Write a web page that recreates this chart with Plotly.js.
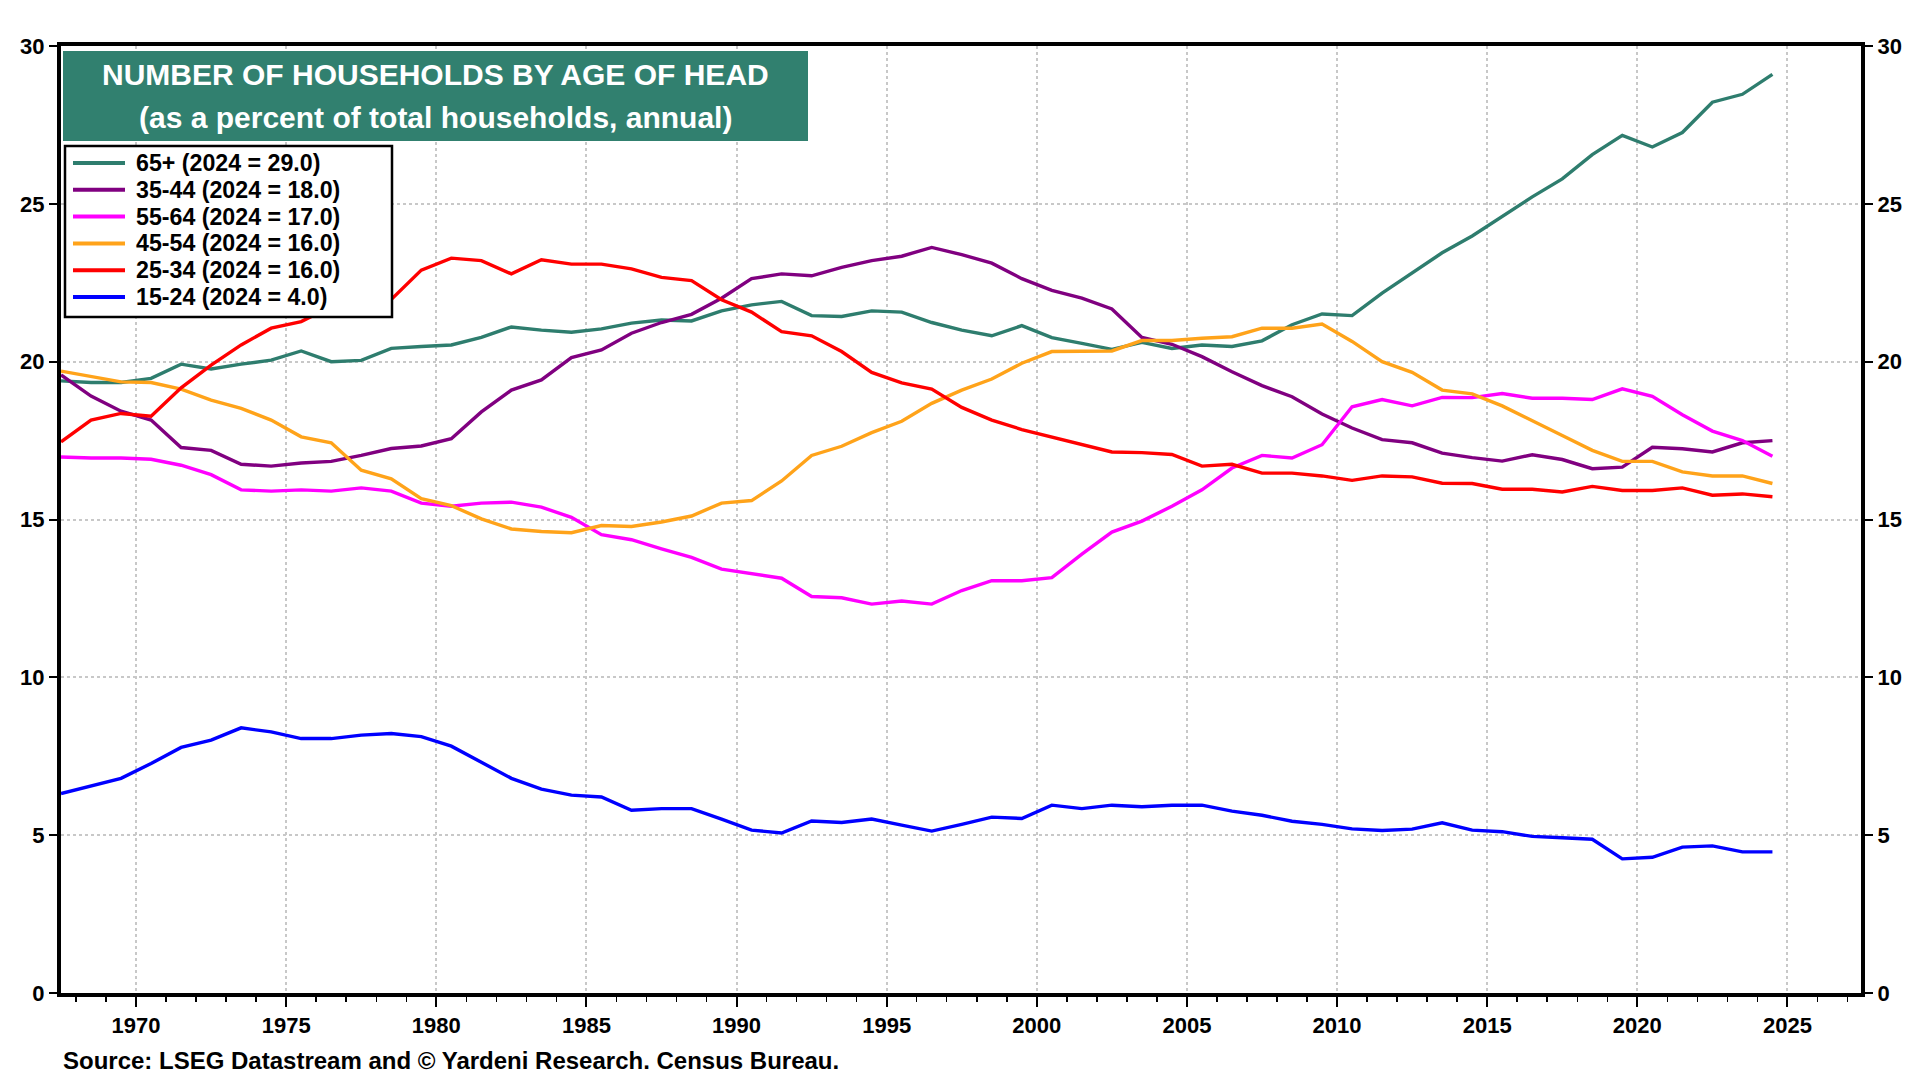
<!DOCTYPE html>
<html>
<head>
<meta charset="utf-8">
<script src="https://cdn.plot.ly/plotly-3.0.1.min.js"></script>
<style>
  html, body { margin: 0; padding: 0; background: #fff; }
  #myDiv { width: 1920px; height: 1080px; }
</style>
</head>
<body>
<div id="myDiv"></div>
<script>
// annual data, 1967-2024 (percent of total households)
var years = [1967, 1968, 1969, 1970, 1971, 1972, 1973, 1974, 1975, 1976,
             1977, 1978, 1979, 1980, 1981, 1982, 1983, 1984, 1985, 1986,
             1987, 1988, 1989, 1990, 1991, 1992, 1993, 1994, 1995, 1996,
             1997, 1998, 1999, 2000, 2001, 2002, 2003, 2004, 2005, 2006,
             2007, 2008, 2009, 2010, 2011, 2012, 2013, 2014, 2015, 2016,
             2017, 2018, 2019, 2020, 2021, 2022, 2023, 2024];

var age65plus = [19.39, 19.34, 19.34, 19.47, 19.92, 19.77, 19.92, 20.05, 20.34, 20.00,
                 20.04, 20.42, 20.48, 20.53, 20.77, 21.10, 21.00, 20.93, 21.04, 21.22,
                 21.32, 21.29, 21.61, 21.80, 21.91, 21.46, 21.43, 21.61, 21.57, 21.24,
                 21.00, 20.82, 21.14, 20.76, 20.58, 20.39, 20.61, 20.42, 20.53, 20.48,
                 20.66, 21.17, 21.51, 21.46, 22.17, 22.81, 23.45, 23.98, 24.61, 25.22,
                 25.79, 26.56, 27.17, 26.80, 27.26, 28.22, 28.47, 29.10];

var age35to44 = [19.58, 18.91, 18.43, 18.15, 17.28, 17.19, 16.75, 16.69, 16.79, 16.84,
                 17.03, 17.25, 17.33, 17.56, 18.41, 19.10, 19.42, 20.13, 20.37, 20.90,
                 21.24, 21.50, 22.01, 22.63, 22.78, 22.72, 22.99, 23.20, 23.34, 23.62,
                 23.39, 23.12, 22.63, 22.26, 22.01, 21.67, 20.77, 20.55, 20.16, 19.68,
                 19.24, 18.89, 18.34, 17.90, 17.53, 17.43, 17.10, 16.96, 16.85, 17.05,
                 16.90, 16.61, 16.66, 17.29, 17.24, 17.14, 17.43, 17.50];

var age55to64 = [16.98, 16.95, 16.95, 16.91, 16.72, 16.42, 15.94, 15.90, 15.94, 15.90,
                 16.00, 15.90, 15.52, 15.42, 15.52, 15.55, 15.39, 15.07, 14.52, 14.36,
                 14.07, 13.80, 13.43, 13.28, 13.14, 12.56, 12.52, 12.32, 12.42, 12.32,
                 12.75, 13.06, 13.06, 13.16, 13.90, 14.60, 14.95, 15.42, 15.94, 16.63,
                 17.03, 16.95, 17.37, 18.57, 18.80, 18.60, 18.87, 18.86, 18.99, 18.84,
                 18.84, 18.80, 19.14, 18.90, 18.32, 17.80, 17.50, 17.00];

var age45to54 = [19.70, 19.52, 19.36, 19.34, 19.13, 18.78, 18.52, 18.15, 17.62, 17.43,
                 16.56, 16.29, 15.66, 15.44, 15.02, 14.70, 14.62, 14.58, 14.81, 14.78,
                 14.92, 15.11, 15.52, 15.60, 16.22, 17.03, 17.32, 17.75, 18.11, 18.68,
                 19.10, 19.45, 19.95, 20.32, 20.32, 20.34, 20.67, 20.67, 20.74, 20.79,
                 21.06, 21.06, 21.19, 20.64, 20.00, 19.66, 19.10, 18.98, 18.60, 18.14,
                 17.66, 17.19, 16.84, 16.84, 16.51, 16.38, 16.38, 16.14];

var age25to34 = [17.46, 18.15, 18.36, 18.27, 19.17, 19.89, 20.53, 21.06, 21.27, 21.75,
                 21.85, 21.97, 22.90, 23.28, 23.20, 22.78, 23.23, 23.09, 23.09, 22.94,
                 22.67, 22.57, 21.96, 21.57, 20.95, 20.82, 20.32, 19.66, 19.33, 19.13,
                 18.55, 18.15, 17.85, 17.62, 17.38, 17.14, 17.12, 17.06, 16.69, 16.75,
                 16.47, 16.47, 16.38, 16.24, 16.38, 16.35, 16.15, 16.14, 15.96, 15.96,
                 15.87, 16.05, 15.92, 15.92, 16.00, 15.77, 15.81, 15.72];

var age15to24 = [6.32, 6.56, 6.80, 7.27, 7.78, 8.01, 8.40, 8.27, 8.06, 8.06,
                 8.17, 8.22, 8.12, 7.82, 7.32, 6.80, 6.46, 6.27, 6.21, 5.79,
                 5.84, 5.84, 5.51, 5.16, 5.07, 5.45, 5.40, 5.51, 5.32, 5.13,
                 5.34, 5.57, 5.53, 5.95, 5.84, 5.95, 5.90, 5.95, 5.95, 5.76,
                 5.63, 5.44, 5.34, 5.20, 5.15, 5.19, 5.39, 5.16, 5.11, 4.96,
                 4.92, 4.87, 4.25, 4.30, 4.62, 4.66, 4.47, 4.47];

var seriesNames = ["65+ (2024 = 29.0)", "35-44 (2024 = 18.0)", "55-64 (2024 = 17.0)",
                   "45-54 (2024 = 16.0)", "25-34 (2024 = 16.0)", "15-24 (2024 = 4.0)"];
var seriesValues = [age65plus, age35to44, age55to64, age45to54, age25to34, age15to24];
var seriesColors = ["#2e7d6e", "#800080", "#ff00ff", "#ffa31a", "#ff0000", "#0000ff"];

// annual values sit in the middle of each year
var xMid = years.map(function (y) { return y + 0.5; });

var fontFamily = "Liberation Sans, Arial, sans-serif";

// plot area in pixels, used to place the title box and the legend
var plotL = 61, plotR = 1861, plotT = 46, plotB = 993;
function px(x) { return (x - plotL) / (plotR - plotL); }
function py(y) { return (plotB - y) / (plotB - plotT); }

var data = [];
for (var i = 0; i < seriesNames.length; i++) {
  data.push({
    type: "scatter",
    mode: "lines",
    x: xMid,
    y: seriesValues[i],
    name: seriesNames[i],
    // the last series goes on the right-hand axis so that it gets drawn (same scale)
    yaxis: i === seriesNames.length - 1 ? "y2" : "y",
    line: {color: seriesColors[i], width: 3.4},
    showlegend: false
  });
}

var tickFont = {family: fontFamily, size: 22, color: "#000", weight: "bold"};

// title box
var shapes = [{
  type: "rect", xref: "paper", yref: "paper",
  x0: px(63), x1: px(808), y0: py(141), y1: py(51),
  fillcolor: "#31806f", line: {width: 0}, layer: "above"
}];

var annotations = [
  {
    xref: "paper", yref: "paper", x: px(435), y: py(74),
    xanchor: "center", yanchor: "middle", showarrow: false,
    text: "NUMBER OF HOUSEHOLDS BY AGE OF HEAD",
    font: {family: fontFamily, size: 30, color: "#fff", weight: "bold"}
  },
  {
    xref: "paper", yref: "paper", x: px(435), y: py(117),
    xanchor: "center", yanchor: "middle", showarrow: false,
    text: "(as a percent of total households, annual)",
    font: {family: fontFamily, size: 30, color: "#fff", weight: "bold"}
  },
  {
    xref: "paper", yref: "paper", x: 0, y: py(1060),
    xanchor: "left", yanchor: "middle", showarrow: false,
    text: "Source: LSEG Datastream and \u00a9 Yardeni Research. Census Bureau.",
    font: {family: fontFamily, size: 24, color: "#000", weight: "bold"}
  }
];

// legend box with line samples
shapes.push({
  type: "rect", xref: "paper", yref: "paper",
  x0: px(65), x1: px(392), y0: py(317), y1: py(146),
  fillcolor: "#fff", line: {color: "#000", width: 2.5}, layer: "above"
});
for (var k = 0; k < seriesNames.length; k++) {
  var rowY = 163 + k * 26.8;
  shapes.push({
    type: "line", xref: "paper", yref: "paper",
    x0: px(73), x1: px(125), y0: py(rowY), y1: py(rowY),
    line: {color: seriesColors[k], width: 4}, layer: "above"
  });
  annotations.push({
    xref: "paper", yref: "paper", x: px(134), y: py(rowY),
    xanchor: "left", yanchor: "middle", showarrow: false,
    text: seriesNames[k],
    font: {family: fontFamily, size: 23.2, color: "#000", weight: "bold"}
  });
}

var layout = {
  width: 1920,
  height: 1080,
  margin: {l: plotL, r: 1920 - plotR, t: plotT, b: 1080 - plotB},
  paper_bgcolor: "#fff",
  plot_bgcolor: "#fff",
  showlegend: false,
  xaxis: {
    range: [1967.5, 2027.45],
    tick0: 1970, dtick: 5,
    ticks: "outside", ticklen: 10, tickwidth: 2, tickcolor: "#000",
    minor: {dtick: 1, ticks: "outside", ticklen: 5, tickwidth: 1.5, tickcolor: "#000", showgrid: false},
    showline: true, linewidth: 4, linecolor: "#000", mirror: true,
    showgrid: true, gridcolor: "#c8c8c8", griddash: "dot", gridwidth: 2,
    zeroline: false,
    tickfont: tickFont
  },
  yaxis: {
    range: [0, 30], dtick: 5,
    ticks: "outside", ticklen: 8, tickwidth: 2, tickcolor: "#000",
    showline: true, linewidth: 4, linecolor: "#000",
    showgrid: true, gridcolor: "#c8c8c8", griddash: "dot", gridwidth: 2,
    zeroline: false,
    tickfont: tickFont
  },
  yaxis2: {
    overlaying: "y", side: "right",
    range: [0, 30], dtick: 5,
    ticks: "outside", ticklen: 8, tickwidth: 2, tickcolor: "#000",
    showline: true, linewidth: 4, linecolor: "#000",
    showgrid: false, zeroline: false,
    tickfont: tickFont
  },
  shapes: shapes,
  annotations: annotations
};

Plotly.newPlot("myDiv", data, layout, {displayModeBar: false, staticPlot: true});
</script>
</body>
</html>
